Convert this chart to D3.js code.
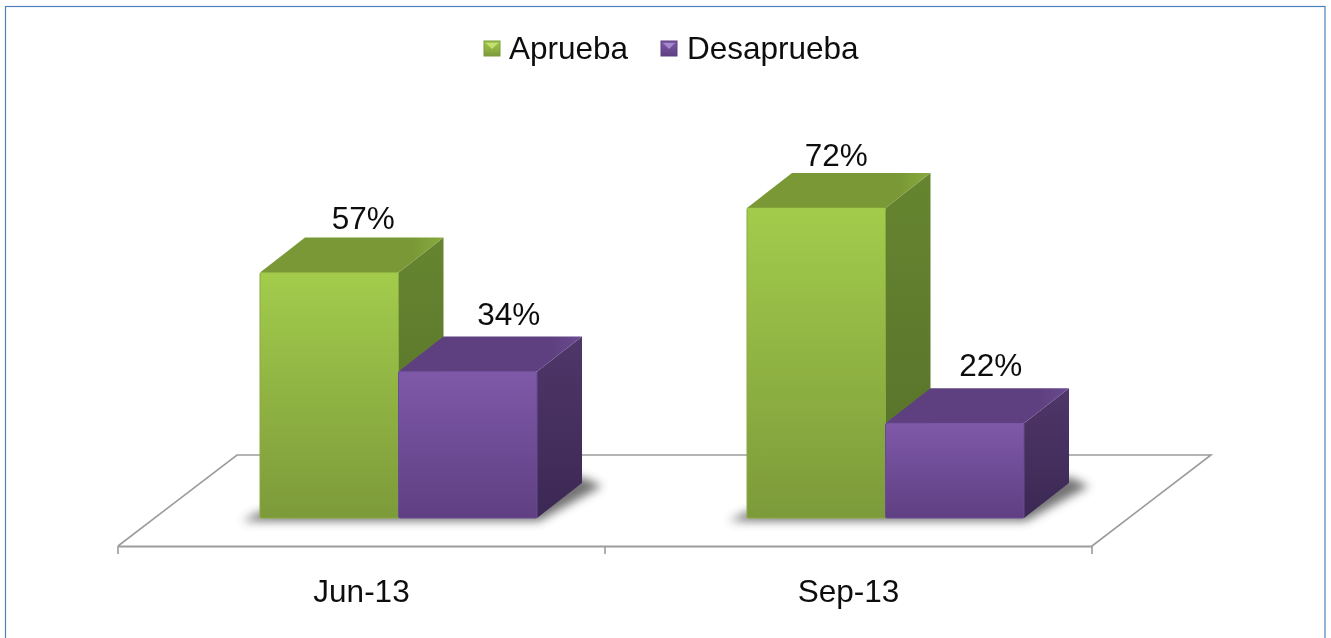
<!DOCTYPE html>
<html><head><meta charset="utf-8">
<script src="https://cdn.jsdelivr.net/npm/d3@7"></script>
<style>html,body{margin:0;padding:0;background:#fff}svg{display:block}text{font-family:"Liberation Sans",Arial,sans-serif;fill:#111}</style>
</head><body><svg id="c" width="1331" height="638"></svg>
<script>
const categories = ["Jun-13", "Sep-13"];
const seriesNames = ["Aprueba", "Desaprueba"];
const aprueba = [57, 72];
const desaprueba = [34, 22];
const seriesValues = [aprueba, desaprueba];
const palette = {
  Aprueba: {hi:"#a3cc4c", lo:"#7c9a3a", top:"#7a9936", topHi:"#88aa3c", sideHi:"#668530", sideLo:"#56702a", edge:"#8aaa3e", tri:"#c4e070"},
  Desaprueba: {hi:"#7f59a9", lo:"#5f3f82", top:"#5e4080", topHi:"#6b4a90", sideHi:"#4f3769", sideLo:"#3c2854", edge:"#6a4a92", tri:"#a688cc"}
};
const svg = d3.select("#c");
const depth = {x:45, y:-35};
const floorOff = {x:119, y:-91};
const baseY = 518, axisY = 546;
const fontSize = 31.5;

const x0 = d3.scaleBand().domain(categories).range([118, 1092]);
const x1 = d3.scaleBand().domain(seriesNames).range([142, 419]);
const y = d3.scaleLinear().domain([0, 72]).range([baseY, 208]);

const defs = svg.append("defs");
function grad(id, stops, x2, y2){
  const g = defs.append("linearGradient").attr("id", id).attr("x1",0).attr("y1",0).attr("x2",x2).attr("y2",y2);
  stops.forEach((c,i)=>g.append("stop").attr("offset", i/(stops.length-1)).attr("stop-color", c));
}
seriesNames.forEach((n,i)=>{
  const p = palette[n];
  grad("f"+i,[p.hi,p.lo],0,1);
  grad("s"+i,[p.sideHi,p.sideLo],0,1);
  grad("t"+i,[p.top,p.top,p.top,p.top,p.top,p.top,p.topHi],1,0);
});
defs.append("filter").attr("id","blur").attr("x","-20%").attr("y","-50%").attr("width","140%").attr("height","200%")
  .append("feGaussianBlur").attr("stdDeviation",5);
defs.append("filter").attr("id","soft").append("feGaussianBlur").attr("stdDeviation",0.4);

// Frame
svg.append("rect").attr("x",5.5).attr("y",6.5).attr("width",1319.5).attr("height",640)
  .attr("fill","#fff").attr("stroke","#4f81bd").attr("stroke-width",1.2);

// Floor and axis
const line = d3.line();
const [fl, fr] = x0.range();
svg.append("path").attr("fill","#fff").attr("stroke","#9c9c9c").attr("stroke-width",1.6)
  .attr("d", line([[fl,axisY],[fl+floorOff.x,axisY+floorOff.y],[fr+floorOff.x,axisY+floorOff.y],[fr,axisY]]) );
const axis = svg.append("g").attr("transform",`translate(0,${axisY})`)
  .call(d3.axisBottom(x0).tickSize(0).tickPadding(46));
axis.select(".domain").attr("stroke","#9c9c9c").attr("stroke-width",1.8);
axis.selectAll("text").attr("font-size",fontSize).attr("dy","0.32em").attr("font-family",'"Liberation Sans",Arial,sans-serif').attr("fill","#111").attr("filter","url(#soft)");
axis.selectAll(".tick line").remove();
const tickXs = categories.map(c=>x0(c)).concat([fr]);
axis.selectAll("line.t").data(tickXs).join("line").attr("class","t")
  .attr("x1",d=>d).attr("x2",d=>d).attr("y1",0).attr("y2",8).attr("stroke","#9c9c9c").attr("stroke-width",1.6);

// Bars
const rows = categories.flatMap((c,ci)=>seriesNames.map((n,si)=>({c,n,si,ci,v:seriesValues[si][ci]})));
const bars = svg.append("g");
const groupW = x1.range();
categories.forEach(c=>{
  const l = x0(c)+groupW[0], r = x0(c)+groupW[1];
  bars.append("path").attr("fill","#444").attr("opacity",.75).attr("filter","url(#blur)")
    .attr("d", line([[l-18,baseY+3],[r+2,baseY+3],[r+depth.x+20,baseY+depth.y+3],[r+depth.x,baseY+depth.y-6],[l,baseY-6]]));
});
rows.forEach(d=>{
  const l = x0(d.c)+x1(d.n), r = l+x1.bandwidth(), t = y(d.v), b = y(0);
  const dx = depth.x, dy = depth.y, i = d.si, p = palette[d.n];
  const g = bars.append("g");
  g.append("path").attr("fill",`url(#s${i})`).attr("d", line([[r,t],[r+dx,t+dy],[r+dx,b+dy],[r,b]])+"Z");
  g.append("path").attr("fill",`url(#t${i})`).attr("d", line([[l,t],[l+dx,t+dy],[r+dx,t+dy],[r,t]])+"Z");
  g.append("rect").attr("x",l).attr("y",t).attr("width",r-l).attr("height",b-t)
    .attr("rx",1.5).attr("fill",`url(#f${i})`).attr("stroke",p.edge).attr("stroke-width",1);
  g.append("line").attr("x1",l+1).attr("x2",r-1).attr("y1",t+.8).attr("y2",t+.8).attr("stroke",p.hi).attr("stroke-width",1.5).attr("opacity",.9);
});
// Labels: the reference places each one by hand
const labelNudgeX = [[34, 20], [41, 36]];
const labelNudgeY = [[-9, -7], [-12, -12]];
svg.append("g").selectAll("text").data(rows).join("text")
  .attr("x",d=>x0(d.c)+x1(d.n)+x1.bandwidth()/2+labelNudgeX[d.si][d.ci])
  .attr("y",d=>y(d.v)+depth.y+labelNudgeY[d.si][d.ci])
  .attr("text-anchor","middle").attr("font-size",fontSize).attr("filter","url(#soft)")
  .text(d=>d.v+"%");

// Legend
const legend = svg.append("g");
const legendItems = [{n:"Aprueba",sw:484,tx:509},{n:"Desaprueba",sw:661,tx:687}];
legendItems.forEach((it)=>{
  const i = seriesNames.indexOf(it.n), p = palette[it.n], s = 15, sy = 41;
  legend.append("rect").attr("x",it.sw).attr("y",sy).attr("width",s+1).attr("height",s).attr("fill",`url(#f${i})`);
  legend.append("path").attr("fill",p.tri)
    .attr("d",line([[it.sw+2,sy+2],[it.sw+s-1,sy+2],[it.sw+s/2+.5,sy+8]])+"Z");
  legend.append("rect").attr("x",it.sw).attr("y",sy).attr("width",s+1).attr("height",s).attr("fill","none").attr("stroke",p.lo).attr("stroke-width",1);
  legend.append("text").attr("x",it.tx).attr("y",59).attr("font-size",fontSize).attr("filter","url(#soft)").text(it.n);
});
</script></body></html>
